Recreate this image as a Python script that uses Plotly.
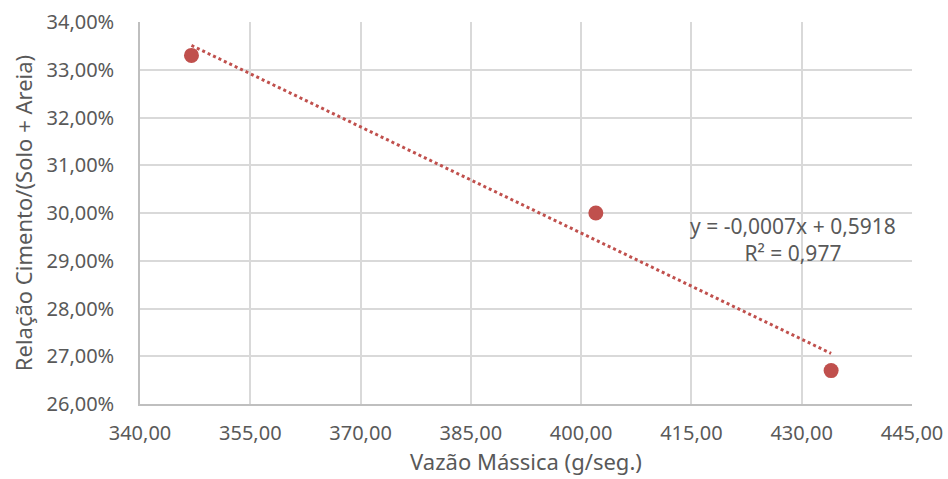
import numpy as np
import plotly.graph_objects as go

vazao = [347, 402, 434]
relacao = [0.333, 0.300, 0.267]
x_ticks = [340, 355, 370, 385, 400, 415, 430, 445]
y_ticks = [0.26, 0.27, 0.28, 0.29, 0.30, 0.31, 0.32, 0.33, 0.34]
eq_text = "y = -0,0007x + 0,5918<br>R² = 0,977"

red = "#c0504d"
font_family = "Noto Sans, sans-serif"

slope, intercept = np.polyfit(vazao, relacao, 1)
tx = np.array([min(vazao), max(vazao)])
ty = slope * tx + intercept

fig = go.Figure()
fig.add_trace(go.Scatter(x=tx, y=ty, mode="lines",
                         line=dict(color=red, width=3, dash="dot"),
                         showlegend=False, hoverinfo="skip"))
fig.add_trace(go.Scatter(x=vazao, y=relacao, mode="markers",
                         marker=dict(color=red, size=15),
                         showlegend=False))

fig.add_annotation(x=428.8, y=0.2945, xref="x", yref="y", text=eq_text,
                   showarrow=False, align="center",
                   font=dict(size=21, color="#595959", family=font_family))

fig.update_layout(
    width=948, height=479,
    margin=dict(l=140, r=36, t=22, b=75),
    paper_bgcolor="white", plot_bgcolor="white",
    separators=",.",
    font=dict(family=font_family, color="#595959", size=20),
)
fig.update_xaxes(range=[340, 445], tickvals=x_ticks, tickformat=".2f",
                 showgrid=True, gridcolor="#d9d9d9", gridwidth=1.5,
                 showline=True, linecolor="#bfbfbf", linewidth=1.5,
                 zeroline=False, ticks="", ticklen=0, automargin=False,
                 ticklabelstandoff=10,
                 title=dict(text="Vazão Mássica (g/seg.)", font=dict(size=22), standoff=8),
                 tickfont=dict(size=20))
fig.update_yaxes(range=[0.26, 0.34], tickvals=y_ticks, tickformat=".2%",
                 showgrid=True, gridcolor="#d9d9d9", gridwidth=1.5,
                 showline=True, linecolor="#bfbfbf", linewidth=1.5,
                 zeroline=False, ticks="", ticklen=0, automargin=False,
                 ticklabelstandoff=20,
                 title=dict(text="Relação Cimento/(Solo + Areia)", font=dict(size=22), standoff=8),
                 tickfont=dict(size=20))

fig.write_html("out.html", config={"displayModeBar": False},
               post_script="document.body.style.margin='0';document.body.style.overflow='hidden';")
